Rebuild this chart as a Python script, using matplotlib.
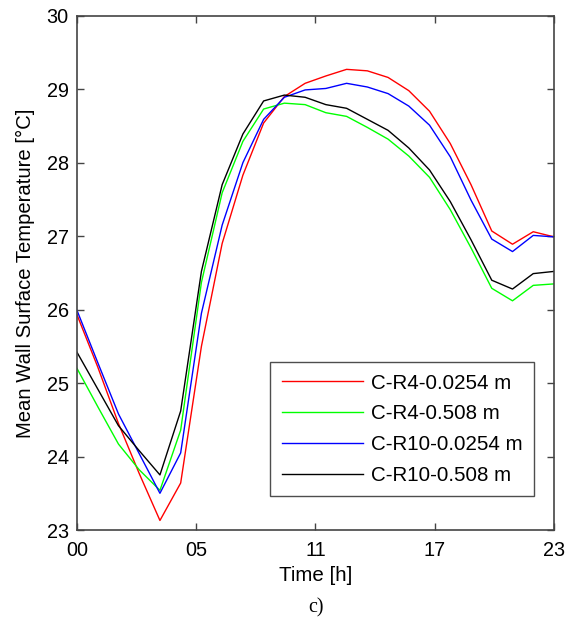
import matplotlib
matplotlib.use('Agg')
import matplotlib.pyplot as plt
import numpy as np

plt.rcParams['font.family'] = ['Liberation Sans', 'DejaVu Sans']

# Hourly mean wall surface temperature (°C)
horas = np.arange(24)
c_r4_00254 = [25.93, 25.22, 24.45, 23.77, 23.13, 23.64, 25.50, 26.90, 27.83, 28.54, 28.90, 29.08,
              29.18, 29.27, 29.25, 29.16, 28.98, 28.70, 28.26, 27.70, 27.07, 26.89, 27.06, 26.99]
c_r4_0508 = [25.20, 24.68, 24.17, 23.82, 23.54, 24.36, 26.37, 27.59, 28.29, 28.73, 28.81, 28.79,
             28.68, 28.63, 28.48, 28.32, 28.09, 27.80, 27.36, 26.84, 26.29, 26.12, 26.33, 26.35]
c_r10_00254 = [25.99, 25.28, 24.58, 24.04, 23.50, 24.05, 25.95, 27.15, 28.00, 28.59, 28.89, 28.99,
               29.01, 29.08, 29.03, 28.94, 28.77, 28.51, 28.08, 27.49, 26.96, 26.79, 27.01, 26.99]
c_r10_0508 = [25.42, 24.92, 24.42, 24.08, 23.75, 24.62, 26.52, 27.70, 28.39, 28.84, 28.92, 28.89,
              28.79, 28.74, 28.59, 28.44, 28.20, 27.90, 27.47, 26.95, 26.40, 26.28, 26.49, 26.52]

series = [
    (c_r4_00254, '#ff0000', 'C-R4-0.0254 m'),
    (c_r4_0508, '#00ff00', 'C-R4-0.508 m'),
    (c_r10_00254, '#0000ff', 'C-R10-0.0254 m'),
    (c_r10_0508, '#000000', 'C-R10-0.508 m'),
]

xticks = [0, 5.75, 11.5, 17.25, 23]
xtick_labels = ['00', '05', '11', '17', '23']
yticks = [23, 24, 25, 26, 27, 28, 29, 30]

fig = plt.figure(figsize=(5.69, 6.24), dpi=100)
ax = fig.add_axes([0.1353, 0.1506, 0.8383, 0.8242])

for valores, cor, nome in series:
    ax.plot(horas, valores, color=cor, lw=1.0, label=nome)

ax.set_xlim(0, 23)
ax.set_ylim(23, 30)
ax.set_xticks(xticks)
ax.set_xticklabels(xtick_labels)
ax.set_yticks(yticks)

for s in ax.spines.values():
    s.set_color('#444444')
    s.set_linewidth(1.2)

ax.tick_params(direction='in', top=True, right=True, length=5, width=1,
               color='#444444', labelsize=14.3)
ax.tick_params(axis='x', pad=8)
ax.tick_params(axis='y', pad=6)

ax.set_xlabel('Time [h]', fontsize=14.8, labelpad=4)
ax.set_ylabel('Mean Wall Surface Temperature [°C]', fontsize=14.6, labelpad=8)

leg = ax.legend(loc='lower right', bbox_to_anchor=(0.958, 0.066), fontsize=14.8,
                frameon=True, fancybox=False, handlelength=3.95, handletextpad=0.4,
                labelspacing=0.57, borderpad=0.55, borderaxespad=0)
leg.get_frame().set_edgecolor('#222222')
leg.get_frame().set_linewidth(1.0)

fig.text(316 / 569, 1 - 608 / 624, 'c)', family='Liberation Serif', fontsize=14.5,
         ha='center', va='center')

fig.savefig('out.png', dpi=100)
